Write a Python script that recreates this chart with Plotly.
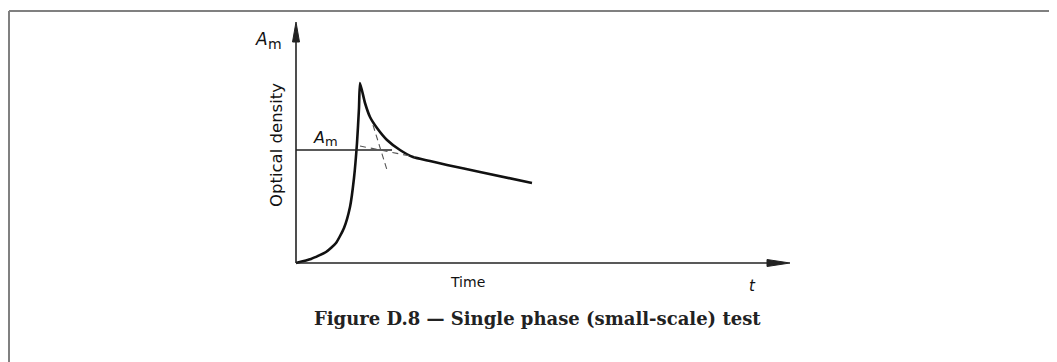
import plotly.graph_objects as go

# ---- data (arbitrary units: time, optical density) ----
time = [0, 1.5, 3.0, 4.0, 4.8, 5.4, 5.8, 6.1, 6.3, 6.4,
        6.9, 7.4, 8.1, 9.1, 10.4, 11.7, 13.4, 15.1, 18.4, 23.6]
density = [0, 0.4, 1.1, 2.0, 3.5, 5.6, 8.5, 12.0, 15.5, 18.0,
           16.0, 14.6, 13.5, 12.3, 11.3, 10.6, 10.2, 9.8, 9.1, 8.0]
am_level = 11.3
am_line_x = [0, 9.6]
tail_ext_x = [6.4, 11.9]
tail_ext_y = [11.7, 10.6]
steep_tan_x = [7.7, 9.1]
steep_tan_y = [13.8, 9.3]
x_axis_end = 49.4
y_axis_end = 24.1

fig = go.Figure()

# main curve
fig.add_trace(go.Scatter(x=time, y=density, mode="lines",
                         line=dict(color="#111", width=2.6, shape="spline", smoothing=0.5),
                         hoverinfo="skip", showlegend=False))
# A_m horizontal level
fig.add_trace(go.Scatter(x=am_line_x, y=[am_level, am_level], mode="lines",
                         line=dict(color="#222", width=1.3),
                         hoverinfo="skip", showlegend=False))
# dashed tangents
fig.add_trace(go.Scatter(x=tail_ext_x, y=tail_ext_y, mode="lines",
                         line=dict(color="#555", width=1.1, dash="6px,5px"),
                         hoverinfo="skip", showlegend=False))
fig.add_trace(go.Scatter(x=steep_tan_x, y=steep_tan_y, mode="lines",
                         line=dict(color="#555", width=1.1, dash="6px,4px"),
                         hoverinfo="skip", showlegend=False))

shapes = []
# axes lines
shapes.append(dict(type="line", xref="x", yref="y", x0=0, y0=0, x1=0, y1=y_axis_end - 1.0,
                   line=dict(color="#222", width=1.6)))
shapes.append(dict(type="line", xref="x", yref="y", x0=0, y0=0, x1=x_axis_end - 1.0, y1=0,
                   line=dict(color="#222", width=1.6)))
# arrow heads
ty = y_axis_end
shapes.append(dict(type="path", xref="x", yref="y",
                   path=f"M 0 {ty} L -0.35 {ty-2.0} L 0.35 {ty-2.0} Z",
                   fillcolor="#222", line=dict(color="#222", width=1)))
tx = x_axis_end
shapes.append(dict(type="path", xref="x", yref="y",
                   path=f"M {tx} 0 L {tx-2.3} 0.35 L {tx-2.3} -0.35 Z",
                   fillcolor="#222", line=dict(color="#222", width=1)))
# page frame (top and left)
shapes.append(dict(type="line", xref="x", yref="y", x0=-28.7, y0=25.2, x1=76.1, y1=25.2,
                   line=dict(color="#808080", width=2)))
shapes.append(dict(type="line", xref="x", yref="y", x0=-28.7, y0=25.2, x1=-28.7, y1=-9.9,
                   line=dict(color="#808080", width=2)))

sans = "DejaVu Sans, Arial, sans-serif"
ann = []
def add(text, x, y, size, family=sans, angle=0, color="#111"):
    ann.append(dict(text=text, x=x, y=y, xref="x", yref="y", showarrow=False,
                    font=dict(family=family, size=size, color=color),
                    textangle=angle, xanchor="center", yanchor="middle"))

add("<i>A</i>", -3.45, 22.4, 17)
add("m", -2.15, 21.95, 14)
add("<i>A</i>", 2.25, 12.6, 16)
add("m", 3.5, 12.15, 13)
add("Optical density", -2.0, 11.8, 16.5, angle=-90)
add("Time", 17.1, -1.9, 14)
add("<i>t</i>", 45.6, -2.3, 15)
add("<b>Figure D.8 — Single phase (small-scale) test</b>", 24.1, -5.5, 18,
    family="DejaVu Serif, Liberation Serif, serif", color="#222")

fig.update_layout(
    width=1049, height=354,
    margin=dict(l=0, r=0, t=0, b=0),
    paper_bgcolor="white", plot_bgcolor="white",
    xaxis=dict(range=[-28.8, 76.1], visible=False, fixedrange=True),
    yaxis=dict(range=[-9.9, 25.5], visible=False, fixedrange=True),
    shapes=shapes, annotations=ann,
)

fig.write_html("out.html")
